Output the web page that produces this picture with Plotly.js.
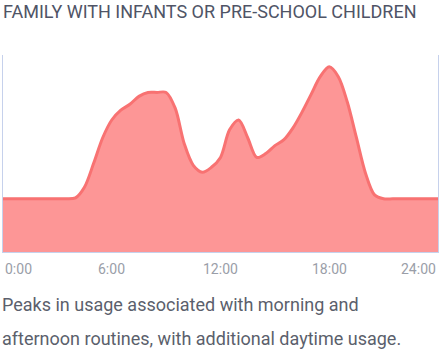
<!DOCTYPE html>
<html>
<head>
<meta charset="utf-8">
<script src="https://cdn.plot.ly/plotly-3.0.1.min.js"></script>
<style>
html,body{margin:0;padding:0;background:#fff;}
#chart{width:441px;height:354px;}
</style>
</head>
<body>
<div id="chart"></div>
<script>
var hours = [0, 1, 2, 3, 3.5, 4, 4.5, 5, 5.5, 6, 6.5, 7, 7.5, 8, 8.5, 9, 9.5, 10, 10.5, 11, 11.5, 12, 12.5, 13, 13.5, 14, 14.5, 15, 15.5, 16, 16.5, 17, 17.5, 18, 18.5, 19, 19.5, 20, 20.5, 21, 21.5, 22, 23, 24];
var usage = [27, 27, 27, 27, 27, 27.5, 33, 45, 58, 67, 72, 75, 79, 81, 81, 81, 73, 55, 44, 40.5, 43, 48, 62, 67, 58, 48, 50, 54, 57, 63, 71, 80, 89, 94, 89, 76, 58, 40, 29, 27, 27, 27, 27, 27];
var tickVals = [0, 6, 12, 18, 24];
var tickText = ["0:00", "6:00", "12:00", "18:00", "24:00"];
var titleText = "FAMILY WITH INFANTS OR PRE-SCHOOL CHILDREN";
var captionLines = ["Peaks in usage associated with morning and", "afternoon routines, with additional daytime usage."];

var annotations = [];
tickVals.forEach(function (v, i) {
  var anchor = i === 0 ? 'left' : (i === tickVals.length - 1 ? 'right' : 'center');
  annotations.push({
    x: v, xref: 'x', y: 0, yref: 'paper', yanchor: 'middle', yshift: -17,
    xanchor: anchor, showarrow: false, text: tickText[i],
    font: {family: 'Roboto, sans-serif', size: 14, color: '#9a9ea8'}
  });
});
captionLines.forEach(function (t, i) {
  annotations.push({
    x: 0, xref: 'paper', y: 0, yref: 'paper', yanchor: 'middle', xanchor: 'left',
    yshift: -52 - i * 34, xshift: -3, showarrow: false, text: t,
    font: {family: 'Roboto, sans-serif', size: 18, color: '#5b5f6c'}
  });
});

Plotly.newPlot('chart', [{
  x: hours, y: usage, type: 'scatter', mode: 'lines',
  line: {shape: 'spline', smoothing: 0.9, color: '#f87272', width: 3},
  fill: 'tozeroy', fillcolor: '#fd9696', hoverinfo: 'skip'
}], {
  width: 441, height: 354,
  margin: {l: 3, r: 3, t: 55, b: 102},
  paper_bgcolor: '#ffffff', plot_bgcolor: '#ffffff',
  showlegend: false,
  title: {text: titleText, x: 0, xref: 'paper', xanchor: 'left', y: 0.967, yref: 'container', yanchor: 'middle',
    font: {family: 'Roboto, sans-serif', size: 18, color: '#4f5466'}},
  xaxis: {range: [0, 24], showgrid: false, zeroline: false, showticklabels: false, ticks: '',
    showline: true, linecolor: '#c6d1ec', linewidth: 1, fixedrange: true},
  yaxis: {range: [0, 100], showgrid: false, zeroline: false, showticklabels: false, ticks: '',
    showline: true, mirror: true, linecolor: '#c6d1ec', linewidth: 1, fixedrange: true},
  annotations: annotations
}, {displayModeBar: false, staticPlot: true});
</script>
</body>
</html>
